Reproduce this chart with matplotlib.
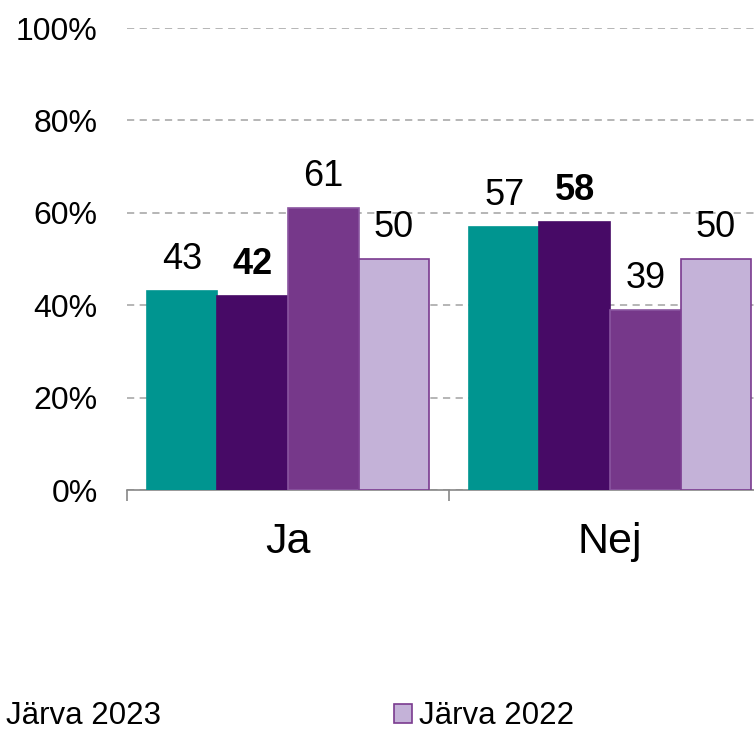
import numpy as np
import matplotlib
matplotlib.use("Agg")
import matplotlib.pyplot as plt

plt.rcParams['font.family'] = ['Liberation Sans', 'DejaVu Sans']

categories = ['Ja', 'Nej']
series_names = ['Serie 1', 'Järva 2023', 'Serie 3', 'Järva 2022']
values = [
    [43, 57],
    [42, 58],
    [61, 39],
    [50, 50],
]
colors = ['#009590', '#470a66', '#76388a', '#c4b2d8']
edges = ['#009590', '#470a66', '#8a55a0', '#7a3b8f']
bold = [False, True, False, False]
yticks = [0, 20, 40, 60, 80, 100]

fig = plt.figure(figsize=(7.54, 7.30), dpi=100)
ax = fig.add_axes([127/754, 240/730, 644/754, 462/730])

x = np.arange(len(categories))
w = 0.219
bars = []
for i, vals in enumerate(values):
    pos = x + (i - 1.5) * w
    b = ax.bar(pos, vals, width=w, color=colors[i], edgecolor=edges[i],
               linewidth=1.2, zorder=3, label=series_names[i])
    bars.append(b)
    for p, v in zip(pos, vals):
        ax.annotate(str(v), (p, v), xytext=(0, 10), textcoords='offset points',
                    ha='center', va='bottom', fontsize=26,
                    fontweight='bold' if bold[i] else 'normal')

ax.set_xlim(-0.5, 1.5)
ax.set_ylim(0, 100)
ax.set_yticks(yticks)
ax.set_yticklabels([f'{t}%' for t in yticks], fontsize=23)
ax.tick_params(axis='y', length=0, pad=21)
ax.yaxis.grid(True, linestyle=(0, (4, 3)), color='#b0b0b0', linewidth=1.3, zorder=0)

ax.set_xticks([-0.5, 0.5, 1.5])
ax.set_xticklabels([])
ax.set_xticks(x, minor=True)
ax.set_xticklabels(categories, minor=True, fontsize=31)
ax.tick_params(axis='x', which='major', length=8, color='#888888', width=1.2)
ax.tick_params(axis='x', which='minor', length=0, pad=23)

for s in ['top', 'right', 'left']:
    ax.spines[s].set_visible(False)
ax.spines['bottom'].set_color('#888888')
ax.spines['bottom'].set_linewidth(1.2)

fig.legend([bars[1], bars[3]], [series_names[1], series_names[3]],
           loc='upper left', bbox_to_anchor=(-31.5/754, 1 - 689/730),
           ncol=2, frameon=False, fontsize=22.5, handlelength=0.58,
           handleheight=0.54, handletextpad=0.22, columnspacing=7.45,
           borderaxespad=0)

fig.savefig('out.png', dpi=100)
